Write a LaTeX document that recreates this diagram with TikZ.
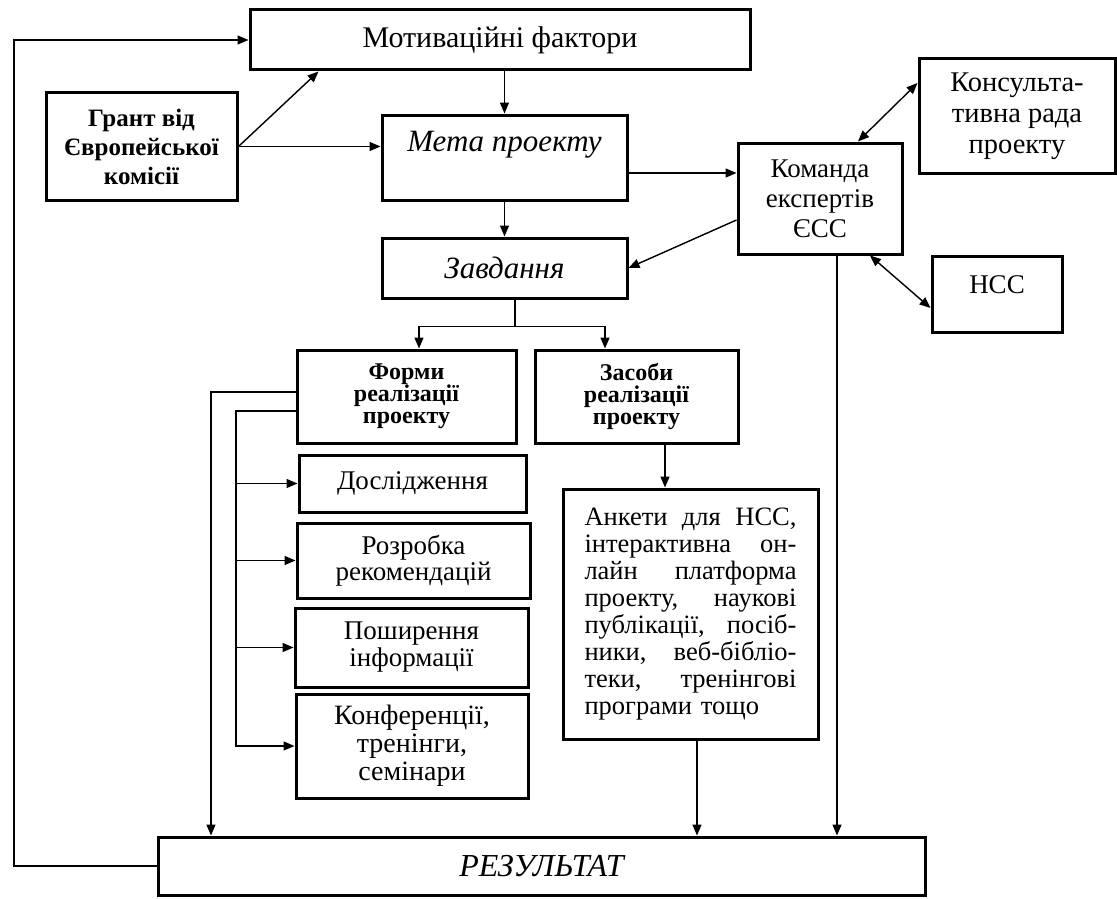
\documentclass[tikz,border=0pt]{standalone}
\usepackage{fontspec}
\setmainfont{Liberation Serif}
\usetikzlibrary{arrows.meta,calc}
\newcommand\jline[1]{\makebox[212pt][s]{\spaceskip=0.25em plus 8em\relax #1}}
\begin{document}
\begin{tikzpicture}[x=1pt,y=-1pt,
  box/.style={draw, line width=3pt, inner sep=0pt, align=center},
  rt/.style={font=\fontsize{27}{29}\selectfont},
  bt/.style={font=\fontsize{24}{22}\selectfont\bfseries},
  it/.style={font=\fontsize{31}{30}\selectfont\itshape},
  conn/.style={line width=1.4pt},
  arr/.style={conn, -{Triangle[length=11pt,width=9pt]}},
  darr/.style={conn, {Triangle[length=11pt,width=9pt]}-{Triangle[length=11pt,width=9pt]}},
]
\useasboundingbox (0,0) rectangle (1117,899);

% boxes
\node[box, font=\fontsize{30}{30}\selectfont, minimum width=500, minimum height=60] (mot) at (500,40) {Мотиваційні фактори};
\node[box, font=\fontsize{25}{29}\selectfont\bfseries, minimum width=191, minimum height=107] (grant) at (141.5,146.5) {Грант від\\Європейської\\комісії};
\node[box, minimum width=245, minimum height=85] (meta) at (504.5,157.5) {};
\node[it] (metat) at (504.5,145) {Мета проекту};
\node[box, it, minimum width=245, minimum height=60] (zav) at (504.5,268) {Завдання};
\node[box, font=\fontsize{27}{30}\selectfont, minimum width=164, minimum height=111] (kom) at (820,198.5) {Команда\\експертів\\ЄСС};
\node[box, font=\fontsize{28.5}{31}\selectfont, minimum width=196, minimum height=114] (kons) at (1017,116) {Консульта-\\тивна рада\\проекту};
\node[box, minimum width=130, minimum height=76] (nss) at (997,294) {};
\node[rt] (nsst) at (997,285) {НСС};
\node[box, bt, minimum width=219, minimum height=93] (forms) at (406.5,396.5) {Форми\\реалізації\\проекту};
\node[box, bt, minimum width=203, minimum height=93] (zasoby) at (636.5,396.5) {Засоби\\реалізації\\проекту};
\node[box, rt, minimum width=227, minimum height=57] (dosl) at (412.5,483.5) {Дослідження};
\node[box, font=\fontsize{27}{26}\selectfont, minimum width=233, minimum height=75] (rozr) at (413.5,560.5) {Розробка\\рекомендацій};
\node[box, font=\fontsize{27}{27}\selectfont, minimum width=233, minimum height=79] (posh) at (411.5,647.5) {Поширення\\інформації};
\node[box, font=\fontsize{28}{28}\selectfont, minimum width=232, minimum height=104] (konf) at (412,746) {Конференції,\\тренінги,\\семінари};
\node[box, font=\fontsize{26.5}{27}\selectfont, minimum width=255, minimum height=250, text width=212, align=left] (ank) at (690.5,614)
 {\jline{Анкети для НСС,}\\
  \jline{інтерактивна он-}\\
  \jline{лайн платформа}\\
  \jline{проекту, наукові}\\
  \jline{публікації, посіб-}\\
  \jline{ники, веб-бібліо-}\\
  \jline{теки, тренінгові}\\
  програми тощо};
\node[box, font=\fontsize{32}{30}\selectfont\itshape, minimum width=767, minimum height=58] (res) at (541.5,866) {РЕЗУЛЬТАТ};

% connectors
\coordinate (fb) at (14,40);
\draw[arr] (res.west) -| (fb) -- (mot.west);
\draw[arr] (grant.east) -- ($(mot.south west)+(70,0)$);
\draw[arr] (grant.east) -- (grant.east -| meta.west);
\draw[arr] (meta.north |- mot.south) -- (meta.north);
\draw[arr] (meta.south) -- (zav.north);
\draw[arr] ([yshift=-15.5]meta.east) -- ([yshift=-15.5]meta.east -| kom.west);
\draw[arr] ([yshift=-21.5]kom.west) -- (zav.east);
\draw[conn] ([xshift=10.5]zav.south) -- ++(0,27) coordinate (br);
\draw[arr] (br) -| ([xshift=12.5]forms.north);
\draw[arr] (br) -| ([xshift=-31.5]zasoby.north);
\draw[arr] ([xshift=28.5]zasoby.south) -- ([xshift=28.5]zasoby.south |- ank.north);
\draw[darr] ([xshift=38]kom.north) -- ([yshift=33]kons.west);
\draw[darr] ([xshift=50]kom.south) -- ([yshift=-14]nss.west);
\draw[arr] ([xshift=17]kom.south) -- ([xshift=17]kom.south |- res.north);
\draw[arr] ([xshift=6.5]ank.south) -- ([xshift=6.5]ank.south |- res.north);
\coordinate (oc) at (211,0);
\coordinate (ic) at (236,0);
\draw[arr] ([yshift=4.5]forms.west) -| (oc |- res.north);
\draw[arr] ([yshift=-14.5]forms.west) -| (ic |- konf.west) -- (konf.west);
\draw[arr] (ic |- dosl.west) -- (dosl.west);
\draw[arr] (ic |- rozr.west) -- (rozr.west);
\draw[arr] (ic |- posh.west) -- (posh.west);
\end{tikzpicture}
\end{document}
